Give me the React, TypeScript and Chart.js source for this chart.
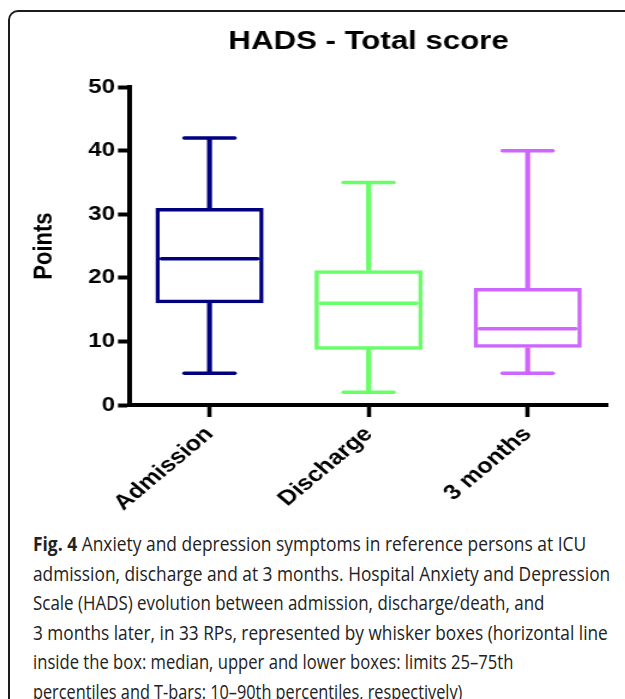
import React, { useEffect, useRef } from 'react';
import { Chart, registerables } from 'chart.js';

Chart.register(...registerables);

// ---- data ----
const categories = ['Admission', 'Discharge', '3 months'];
const whiskerLow = [5, 2, 5];
const q1 = [16, 8.7, 9];
const median = [23, 16, 12];
const q3 = [31, 21.2, 18.4];
const whiskerHigh = [42, 35, 40];
const colors = ['#000080', '#66FF66', '#CC66FF'];
const yMin = 0;
const yMax = 50;
const yStep = 10;
const chartTitle = 'HADS - Total score';
const yTitle = 'Points';
const captionBold = 'Fig. 4';
const captionLines = [
  ' Anxiety and depression symptoms in reference persons at ICU',
  'admission, discharge and at 3 months. Hospital Anxiety and Depression',
  'Scale (HADS) evolution between admission, discharge/death, and',
  '3 months later, in 33 RPs, represented by whisker boxes (horizontal line',
  'inside the box: median, upper and lower boxes: limits 25\u201375th',
  'percentiles and T-bars: 10\u201390th percentiles, respectively)',
];
// horizontal squeeze of each caption line (typesetting only)
const captionSqueeze = [0.892, 0.888, 0.868, 0.885, 0.852, 0.835];

// the figure is drawn narrower and stretched horizontally, as in the source image
const STRETCH = 1.2;
const CANVAS_W = 521;
const CANVAS_H = 525;
const AXIS_BOTTOM = 405;
const FONT = '"Liberation Sans", Arial, Helvetica, sans-serif';

const roundCapPlugin = {
  id: 'roundCap',
  beforeDatasetsDraw(chart: any) {
    chart.ctx.lineCap = 'round';
  },
  afterDatasetsDraw(chart: any) {
    chart.ctx.lineCap = 'butt';
  },
};

export default function App() {
  const ref = useRef<HTMLCanvasElement | null>(null);

  useEffect(() => {
    if (!ref.current) return;
    const boxData = categories.map((_, i) => [q1[i], q3[i]]);
    const upperWhisker = categories.map((_, i) => [q3[i], whiskerHigh[i]]);
    const lowerWhisker = categories.map((_, i) => [whiskerLow[i], q1[i]]);

    const pointSet = (data: number[], r: number) => ({
      type: 'line',
      data,
      showLine: false,
      pointStyle: 'line',
      pointRadius: r,
      pointHoverRadius: r,
      pointBorderWidth: 3.5,
      pointBorderColor: colors,
      pointBackgroundColor: colors,
    });

    const chart = new Chart(ref.current, {
      type: 'bar',
      data: {
        labels: categories,
        datasets: [
          {
            type: 'bar',
            data: upperWhisker as any,
            backgroundColor: colors,
            borderWidth: 0,
            barThickness: 3.5,
            grouped: false,
          } as any,
          {
            type: 'bar',
            data: lowerWhisker as any,
            backgroundColor: colors,
            borderWidth: 0,
            barThickness: 3.5,
            grouped: false,
          } as any,
          {
            type: 'bar',
            data: boxData as any,
            backgroundColor: 'rgba(255,255,255,0)',
            borderColor: colors,
            borderWidth: 3.5,
            borderSkipped: false,
            barPercentage: 0.68,
            categoryPercentage: 1,
            grouped: false,
          } as any,
          pointSet(median, 40) as any,
          pointSet(whiskerHigh, 21) as any,
          pointSet(whiskerLow, 21) as any,
        ],
      },
      options: {
        responsive: false,
        animation: false,
        events: [],
        layout: { autoPadding: false, padding: { top: 0, left: 0, right: 15, bottom: 0 } },
        plugins: {
          legend: { display: false },
          tooltip: { enabled: false },
          title: {
            display: true,
            text: chartTitle,
            fullSize: false,
            color: '#000',
            font: { family: FONT, size: 26, weight: 'bold' },
            padding: { top: 26, bottom: 30 },
          },
        },
        scales: {
          x: {
            type: 'category',
            offset: true,
            afterFit(scale: any) {
              scale.height = CANVAS_H - AXIS_BOTTOM;
              scale.paddingLeft = 0;
              scale.paddingRight = 0;
            },
            ticks: {
              minRotation: 45,
              maxRotation: 45,
              autoSkip: false,
              color: '#000',
              padding: 5,
              font: { family: FONT, size: 21, weight: 'bold' },
            },
            grid: {
              display: true,
              drawOnChartArea: false,
              drawTicks: true,
              tickLength: 12,
              tickWidth: 3.5,
              tickColor: '#000',
              offset: false,
            },
            border: { display: true, width: 4, color: '#000' },
          },
          y: {
            type: 'linear',
            min: yMin,
            max: yMax,
            afterFit(scale: any) {
              scale.width = 108.3;
            },
            ticks: {
              stepSize: yStep,
              color: '#000',
              padding: 2.5,
              font: { family: FONT, size: 20, weight: 'bold' },
            },
            grid: {
              display: true,
              drawOnChartArea: false,
              drawTicks: true,
              tickLength: 10,
              tickWidth: 4,
              tickColor: '#000',
            },
            border: { display: true, width: 4, color: '#000' },
            title: {
              display: true,
              text: yTitle,
              color: '#000',
              font: { family: FONT, size: 22, weight: 'bold' },
              padding: { top: 23.5, bottom: 0 },
            },
          },
        },
      } as any,
      plugins: [roundCapPlugin],
    });
    return () => chart.destroy();
  }, []);

  return (
    <div style={{ position: 'absolute', left: 0, top: 0, width: 625, height: 699, overflow: 'hidden', background: '#fff' }}>
      <div
        style={{
          position: 'absolute',
          left: 8,
          top: 10,
          width: 700,
          height: 760,
          borderLeft: '2px solid #1c1c1c',
          borderTop: '2px solid #1c1c1c',
          borderTopLeftRadius: 10,
          boxSizing: 'border-box',
        }}
      />
      <div
        style={{
          position: 'absolute',
          left: 0,
          top: 0,
          width: CANVAS_W,
          height: CANVAS_H,
          transform: `scaleX(${STRETCH})`,
          transformOrigin: '0 0',
        }}
      >
        <canvas ref={ref} width={CANVAS_W} height={CANVAS_H} style={{ display: 'block', width: CANVAS_W, height: CANVAS_H }} />
      </div>
      <div
        style={{
          position: 'absolute',
          left: 33,
          top: 529,
          fontFamily: '"Open Sans", sans-serif',
          fontSize: 19.5,
          lineHeight: '29.6px',
          color: '#222',
          whiteSpace: 'nowrap',
        }}
      >
        {captionLines.map((line, i) => (
          <div key={i} style={{ transform: `scaleX(${captionSqueeze[i]})`, transformOrigin: 'left top' }}>
            {i === 0 ? <b>{captionBold}</b> : null}
            {line}
          </div>
        ))}
      </div>
    </div>
  );
}
